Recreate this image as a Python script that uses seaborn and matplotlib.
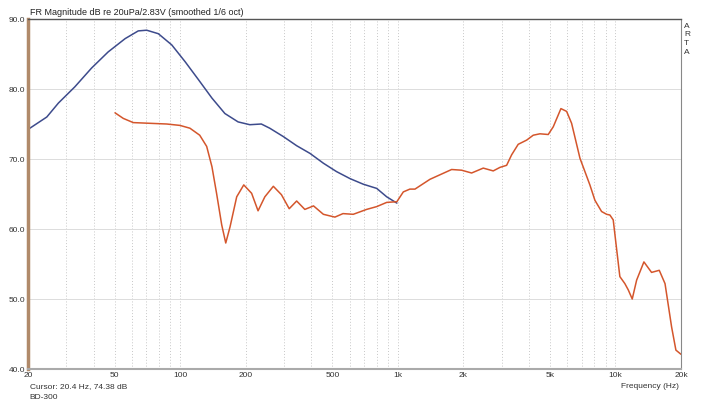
import pandas as pd
import matplotlib
matplotlib.use('Agg')
import matplotlib.pyplot as plt
import matplotlib.ticker as mticker
import seaborn as sns

# Blue curve (20 Hz - 1 kHz)
blue_freq = [20, 20.4, 24.4, 27.6, 32.8, 39.2, 46.7, 55.9, 64.2, 70.2, 79.4, 91.5, 105.4, 121.6,
             140, 160.5, 184.6, 209, 236, 258, 298, 343, 395, 455, 523, 603, 694, 800, 889, 990]
blue_db = [74.3, 74.4, 76.0, 78.0, 80.3, 83.0, 85.3, 87.2, 88.3, 88.4, 87.9, 86.3, 83.9, 81.3,
           78.7, 76.5, 75.3, 74.9, 75.0, 74.4, 73.2, 71.9, 70.8, 69.4, 68.2, 67.2, 66.4, 65.8, 64.6, 63.7]

# Red curve (50 Hz - 20 kHz)
red_freq = [50.2, 54.8, 60.9, 72.7, 86.7, 99.8, 110.9, 123, 132.4, 140, 147, 155.2, 162, 169.5,
            181.9, 196, 213, 228, 245, 268, 292, 317, 343, 374, 410, 455, 514, 560, 624, 719,
            800, 889, 990, 1060, 1136, 1199, 1405, 1767, 1964, 2183, 2469, 2744, 2945, 3162,
            3334, 3574, 3908, 4190, 4497, 4910, 5178, 5616, 5965, 6287, 6870, 7628, 8046, 8632,
            9106, 9425, 9765, 10046, 10475, 11043, 11450, 11940, 12510, 13510, 14650, 15890,
            16890, 18110, 18950, 20000]
red_db = [76.6, 75.8, 75.2, 75.1, 75.0, 74.8, 74.4, 73.4, 71.8, 68.9, 65.1, 60.6, 58.0, 60.3,
          64.6, 66.3, 65.1, 62.6, 64.6, 66.1, 64.9, 62.9, 64.0, 62.8, 63.3, 62.1, 61.7, 62.2, 62.1, 62.8,
          63.2, 63.8, 63.9, 65.3, 65.7, 65.7, 67.1, 68.5, 68.4, 68.0, 68.7, 68.3, 68.8, 69.1,
          70.6, 72.1, 72.7, 73.4, 73.6, 73.5, 74.6, 77.2, 76.8, 75.1, 70.1, 66.3, 64.1, 62.5,
          62.1, 62.0, 61.3, 58.0, 53.2, 52.2, 51.3, 50.0, 52.7, 55.3, 53.8, 54.1,
          52.2, 46.0, 42.7, 42.1]

x_ticks = [20, 50, 100, 200, 500, 1000, 2000, 5000, 10000, 20000]
x_labels = ['20', '50', '100', '200', '500', '1k', '2k', '5k', '10k', '20k']
y_ticks = [40, 50, 60, 70, 80, 90]

df = pd.concat([
    pd.DataFrame({'freq': blue_freq, 'db': blue_db, 'trace': 'blue'}),
    pd.DataFrame({'freq': red_freq, 'db': red_db, 'trace': 'red'}),
])

sns.set_style('white')
plt.rcParams['font.family'] = ['Liberation Sans', 'DejaVu Sans']

fig = plt.figure(figsize=(7.09, 4.01), dpi=100)
ax = fig.add_axes([0.0395, 0.0798, 0.921, 0.8728])

sns.lineplot(data=df, x='freq', y='db', hue='trace', palette={'blue': '#3d4b8c', 'red': '#d4562c'},
             linewidth=1.1, legend=False, ax=ax, sort=False, estimator=None)

ax.set_xscale('log')
ax.set_xlim(20, 20000)
ax.set_ylim(40, 90)
ax.set_xticks(x_ticks)
ax.set_xticklabels(x_labels)
ax.xaxis.set_minor_locator(mticker.LogLocator(base=10, subs=range(1, 10)))
ax.xaxis.set_minor_formatter(mticker.NullFormatter())
ax.set_yticks(y_ticks)
ax.set_yticklabels([f'{v:.1f}' for v in y_ticks])
ax.tick_params(axis='both', which='both', length=0, labelsize=6, colors='#333333', pad=2)
ax.set_xlabel('')
ax.set_ylabel('')

# grid: dotted verticals, solid light horizontals
ax.grid(True, axis='x', which='both', linestyle=(0, (1, 2)), color='#c8c8c8', linewidth=0.7)
ax.grid(True, axis='y', which='major', linestyle='-', color='#dcdcdc', linewidth=0.7)

ax.spines['left'].set_color('#b08a6a')
ax.spines['left'].set_linewidth(2.5)
ax.spines['top'].set_color('#555555')
ax.spines['top'].set_linewidth(1.0)
ax.spines['right'].set_color('#888888')
ax.spines['bottom'].set_color('#aaaaaa')
ax.spines['bottom'].set_linewidth(1.5)

fig.text(0.042, 0.962, 'FR Magnitude dB re 20uPa/2.83V (smoothed 1/6 oct)', fontsize=6.5, color='#222222')
fig.text(0.042, 0.033, 'Cursor: 20.4 Hz, 74.38 dB', fontsize=6, color='#333333')
fig.text(0.042, 0.005, 'BD-300', fontsize=6, color='#333333')
fig.text(0.958, 0.033, 'Frequency (Hz)', fontsize=6, color='#333333', ha='right')
for i, ch in enumerate('ARTA'):
    fig.text(0.965, 0.935 - i * 0.022, ch, fontsize=6, color='#333333', va='center')

fig.savefig('out.png', dpi=100)
